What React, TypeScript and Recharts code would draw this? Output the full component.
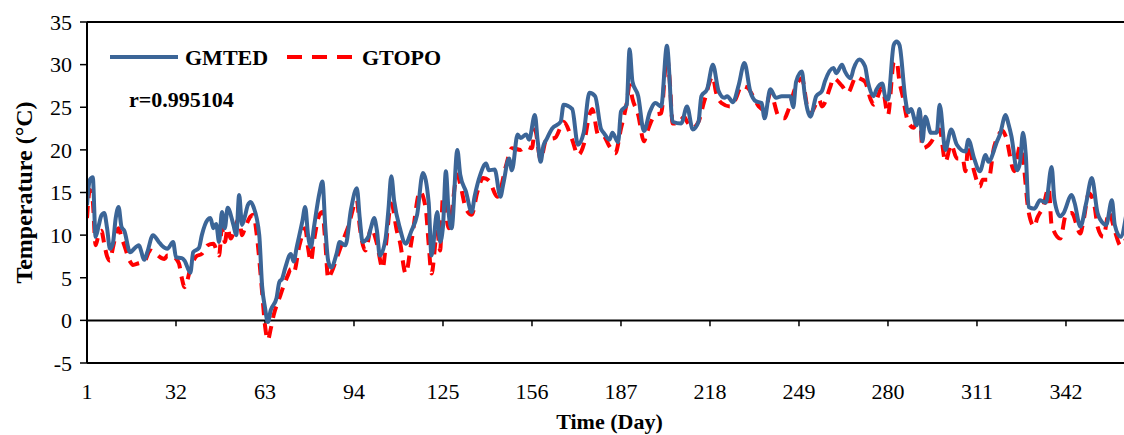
import { LineChart, Line, XAxis, YAxis, ReferenceLine, Legend } from "recharts";

const FONT = "'Liberation Serif', 'Times New Roman', serif";
const BLUE = "#3b6597";
const RED = "#ff0000";

const dayTicks = [1, 32, 63, 94, 125, 156, 187, 218, 249, 280, 311, 342];
const tempTicks = [-5, 0, 5, 10, 15, 20, 25, 30, 35];

const gmtedDays = [
  1, 2, 3, 4, 5, 6, 7, 8, 9, 10, 11, 12, 13, 14, 16, 18, 19, 21, 22, 24, 26, 27, 29, 31, 32, 34, 35, 37, 38, 40,
  41, 43, 44, 45, 46, 47, 48, 49, 50, 52, 53, 54, 55, 56, 57, 58, 59, 61, 62, 63, 64, 65, 67, 68, 69, 70, 72, 73, 74, 76,
  77, 78, 79, 80, 82, 83, 84, 85, 86, 88, 89, 91, 93, 95, 96, 97, 99, 100, 101, 102, 103, 105, 106, 107, 108, 110, 112, 114, 116, 118,
  120, 121, 123, 124, 125, 126, 127, 128, 130, 131, 133, 135, 136, 138, 140, 141, 143, 145, 146, 148, 149, 151, 152, 154, 155, 157, 158, 159, 160, 161,
  163, 166, 167, 170, 172, 174, 176, 178, 180, 181, 183, 184, 186, 187, 189, 190, 191, 193, 195, 197, 199, 201, 203, 205, 208, 210, 212, 214, 215, 217,
  219, 221, 223, 224, 226, 228, 230, 232, 234, 236, 237, 239, 241, 243, 246, 247, 248, 250, 251, 253, 255, 257, 258, 261, 262, 264, 265, 267, 268, 270,
  272, 273, 275, 276, 278, 279, 280, 282, 283, 284, 286, 287, 288, 290, 291, 292, 293, 295, 297, 298, 300, 302, 304, 307, 308, 310, 312, 314, 315, 318,
  319, 321, 322, 323, 325, 326, 327, 328, 329, 331, 333, 335, 337, 338, 340, 341, 344, 345, 347, 349, 351, 353, 354, 356, 358, 359, 361, 363,
];
const gmtedTemps = [
  13.5, 16.5, 16.8, 9.8, 11.0, 12.3, 12.6, 10.8, 8.4, 9.0, 12.0, 13.3, 11.0, 10.5, 8.0, 8.6, 8.8, 7.1, 8.0, 10.0, 9.2, 8.8, 8.4, 9.2, 7.4, 7.3, 7.0, 5.6, 8.0, 8.5,
  10.0, 11.8, 12.0, 10.8, 11.3, 9.2, 12.7, 10.8, 13.2, 11.2, 10.0, 14.7, 11.2, 12.2, 13.5, 13.9, 13.3, 10.0, 4.0, 1.5, -0.2, 1.2, 2.6, 4.5, 4.9, 6.1, 7.8, 6.9, 8.5, 11.6,
  13.3, 10.0, 8.6, 10.8, 15.0, 16.3, 11.0, 7.0, 6.2, 7.9, 9.2, 8.8, 13.1, 15.5, 12.0, 9.2, 9.8, 11.0, 12.0, 10.5, 7.6, 9.6, 13.0, 16.9, 14.0, 10.8, 9.0, 10.5, 12.4, 17.3,
  13.9, 7.6, 12.7, 9.2, 11.0, 17.5, 12.5, 10.8, 20.0, 17.1, 15.1, 12.7, 14.5, 17.1, 18.4, 17.6, 17.7, 14.5, 16.0, 19.0, 17.6, 21.8, 21.4, 21.8, 21.2, 24.1, 21.0, 18.6, 20.5, 21.2,
  22.5, 23.3, 25.3, 24.8, 20.6, 22.0, 26.7, 26.3, 22.5, 22.0, 21.2, 22.0, 20.9, 24.5, 25.3, 31.8, 28.0, 26.3, 22.2, 24.4, 25.5, 25.1, 32.2, 23.3, 23.1, 25.1, 22.4, 23.3, 26.3, 27.1,
  30.0, 26.9, 26.1, 26.3, 25.6, 27.6, 30.2, 26.9, 25.7, 25.5, 23.7, 27.1, 26.1, 26.3, 26.3, 25.0, 28.0, 29.2, 26.5, 23.9, 26.3, 26.9, 28.0, 29.6, 29.0, 30.0, 29.2, 28.4, 29.5, 30.6,
  29.8, 28.0, 26.3, 27.1, 27.8, 26.3, 25.9, 32.3, 32.7, 32.3, 26.1, 24.4, 24.8, 22.9, 24.8, 21.0, 23.9, 22.0, 22.0, 25.3, 20.0, 22.4, 20.6, 19.8, 21.2, 19.0, 17.5, 19.4, 18.6, 21.0,
  21.8, 24.1, 23.0, 21.6, 17.6, 18.5, 22.0, 19.4, 13.3, 13.1, 14.1, 13.8, 18.0, 14.1, 12.2, 12.5, 14.7, 13.8, 11.0, 13.7, 16.7, 12.6, 11.8, 11.2, 14.1, 11.2, 9.8, 12.4,
];

const gtopoDays = [
  1, 2, 3, 4, 5, 6, 7, 8, 9, 10, 12, 13, 14, 16, 17, 19, 21, 23, 25, 27, 28, 29, 31, 33, 34, 35, 37, 39, 41, 43,
  45, 47, 48, 49, 50, 51, 54, 55, 56, 58, 59, 60, 62, 63, 64, 65, 66, 68, 70, 71, 72, 73, 75, 77, 78, 79, 80, 82, 83, 84,
  85, 86, 88, 90, 92, 95, 96, 98, 100, 102, 104, 105, 107, 109, 110, 112, 114, 117, 119, 120, 121, 123, 124, 125, 127, 130, 131, 133, 135, 137,
  139, 141, 144, 147, 149, 152, 154, 156, 157, 159, 161, 164, 166, 167, 170, 172, 174, 176, 177, 179, 181, 183, 185, 187, 189, 190, 191, 193, 195, 196,
  199, 201, 203, 204, 205, 207, 209, 210, 212, 214, 216, 219, 220, 222, 225, 227, 229, 231, 233, 235, 237, 238, 239, 242, 244, 245, 248, 250, 252, 253,
  256, 257, 260, 261, 264, 266, 269, 270, 272, 274, 275, 278, 280, 282, 283, 284, 285, 287, 289, 291, 292, 294, 295, 298, 300, 302, 304, 306, 307, 308,
  310, 312, 313, 315, 317, 320, 321, 324, 326, 327, 329, 331, 332, 334, 336, 337, 340, 342, 344, 347, 348, 350, 352, 353, 355, 357, 359, 361, 363,
];
const gtopoTemps = [
  12.0, 15.3, 14.0, 8.8, 10.0, 10.5, 9.0, 7.5, 7.0, 8.5, 10.8, 9.8, 8.8, 6.9, 6.5, 6.7, 6.9, 8.2, 7.8, 7.3, 7.2, 7.6, 7.5, 6.7, 5.0, 3.9, 6.0, 7.5, 7.8, 8.8,
  9.0, 7.6, 10.8, 9.2, 10.8, 9.6, 12.0, 10.0, 10.8, 12.2, 12.4, 10.4, 3.3, -0.6, -2.3, -1.0, 0.6, 2.6, 4.5, 5.3, 6.0, 5.6, 8.8, 10.8, 8.5, 6.9, 9.2, 12.4, 12.7, 9.2,
  4.9, 5.5, 7.3, 9.2, 11.0, 14.1, 11.0, 8.2, 10.8, 9.0, 6.1, 8.5, 13.7, 10.4, 9.2, 5.5, 9.2, 15.1, 13.1, 9.0, 5.5, 10.4, 8.2, 14.5, 10.8, 17.1, 16.0, 13.1, 12.4, 15.1,
  16.7, 16.4, 14.5, 18.2, 20.2, 20.0, 20.4, 20.2, 22.4, 18.9, 21.2, 21.4, 22.7, 23.3, 21.2, 19.4, 20.6, 24.1, 24.8, 21.8, 21.6, 20.4, 19.6, 22.5, 25.5, 27.6, 26.0, 24.1, 21.0, 22.0,
  24.1, 24.3, 31.0, 28.0, 23.1, 23.1, 23.9, 23.3, 22.6, 23.3, 25.7, 28.6, 26.9, 25.5, 25.1, 26.0, 27.5, 27.3, 26.3, 25.1, 24.7, 25.5, 26.7, 23.9, 23.7, 24.4, 27.5, 28.4, 24.9, 24.3,
  25.9, 25.1, 27.5, 28.4, 27.5, 26.7, 28.6, 28.4, 28.0, 25.9, 25.3, 27.3, 24.1, 30.2, 30.4, 28.0, 26.5, 23.3, 22.6, 24.4, 20.2, 20.5, 20.9, 22.4, 18.6, 20.6, 19.0, 19.0, 17.5, 20.6,
  17.5, 15.7, 16.5, 16.5, 20.4, 22.2, 21.6, 17.5, 20.4, 19.0, 12.7, 11.0, 12.0, 13.3, 15.5, 11.2, 9.6, 12.4, 12.6, 10.2, 11.5, 14.9, 13.3, 11.0, 9.8, 12.7, 10.5, 8.8, 9.6,
];

const gmtedData = gmtedDays.map((day, i) => ({ day, temp: gmtedTemps[i] }));
const gtopoData = gtopoDays.map((day, i) => ({ day, temp: gtopoTemps[i] }));

const renderLegend = () => (
  <svg width={360} height={30} style={{ display: "block" }}>
    <line x1={2} x2={70} y1={15} y2={15} stroke={BLUE} strokeWidth={4} />
    <text x={77} y={15} dominantBaseline="central" fontFamily={FONT} fontSize={22} fontWeight="bold" fill="#000">
      GMTED
    </text>
    <line x1={179} x2={245} y1={15} y2={15} stroke={RED} strokeWidth={4} strokeDasharray="15 10" />
    <text x={254} y={15} dominantBaseline="central" fontFamily={FONT} fontSize={22} fontWeight="bold" fill="#000">
      GTOPO
    </text>
  </svg>
);

const renderYLabel = (props: any) => {
  const vb = props.viewBox || { y: 22, height: 341 };
  const cx = 24;
  const cy = vb.y + vb.height / 2;
  return (
    <text
      x={cx}
      y={cy}
      transform={`rotate(-90, ${cx}, ${cy})`}
      textAnchor="middle"
      dominantBaseline="central"
      fontFamily={FONT}
      fontSize={24}
      fontWeight="bold"
      fill="#000"
    >
      Temperature (°C)
    </text>
  );
};

export default function App() {
  return (
    <div
      style={{
        position: "fixed",
        left: 0,
        top: 0,
        width: 1124,
        height: 435,
        overflow: "hidden",
        background: "#fff",
        fontFamily: FONT,
      }}
    >
      <LineChart width={1132} height={435} margin={{ top: 22, right: 0, bottom: 0, left: 0 }}>
        <XAxis
          type="number"
          dataKey="day"
          domain={[1, 365]}
          ticks={dayTicks}
          allowDataOverflow
          height={72}
          tickSize={0}
          tickMargin={20}
          tickLine={false}
          axisLine={{ stroke: "#000", strokeWidth: 2 }}
          tick={{ fontSize: 22, fill: "#000", fontFamily: FONT }}
          label={{
            value: "Time (Day)",
            position: "insideBottom",
            offset: 6,
            fontSize: 22,
            fontWeight: "bold",
            fill: "#000",
            fontFamily: FONT,
          }}
        />
        <YAxis
          type="number"
          domain={[-5, 35]}
          ticks={tempTicks}
          allowDataOverflow
          width={87}
          tickSize={7}
          tickMargin={8}
          tickLine={{ stroke: "#000", strokeWidth: 1.5 }}
          axisLine={{ stroke: "#000", strokeWidth: 2 }}
          tick={{ fontSize: 22, fill: "#000", fontFamily: FONT }}
          label={{ content: renderYLabel }}
        />
        <ReferenceLine y={35} stroke="#000" strokeWidth={2} />
        <ReferenceLine y={0} stroke="#000" strokeWidth={2} />
        {dayTicks.slice(1).map((d) => (
          <ReferenceLine
            key={d}
            segment={[
              { x: d, y: 0 },
              { x: d, y: -0.7 },
            ]}
            stroke="#000"
            strokeWidth={1.5}
          />
        ))}
        <Legend
          layout="horizontal"
          verticalAlign="middle"
          align="center"
          content={renderLegend}
          wrapperStyle={{ left: 108, top: 42, width: 360, height: 30 }}
        />
        <Line
          data={gtopoData}
          dataKey="temp"
          name="GTOPO"
          type="monotone"
          stroke={RED}
          strokeWidth={4}
          strokeDasharray="12 8"
          dot={false}
          activeDot={false}
          isAnimationActive={false}
        />
        <Line
          data={gmtedData}
          dataKey="temp"
          name="GMTED"
          type="monotone"
          stroke={BLUE}
          strokeWidth={4}
          dot={false}
          activeDot={false}
          isAnimationActive={false}
        />
      </LineChart>
      <div
        style={{
          position: "absolute",
          left: 129,
          top: 86,
          fontSize: 22,
          fontWeight: "bold",
          lineHeight: "28px",
          color: "#000",
        }}
      >
        r=0.995104
      </div>
    </div>
  );
}
